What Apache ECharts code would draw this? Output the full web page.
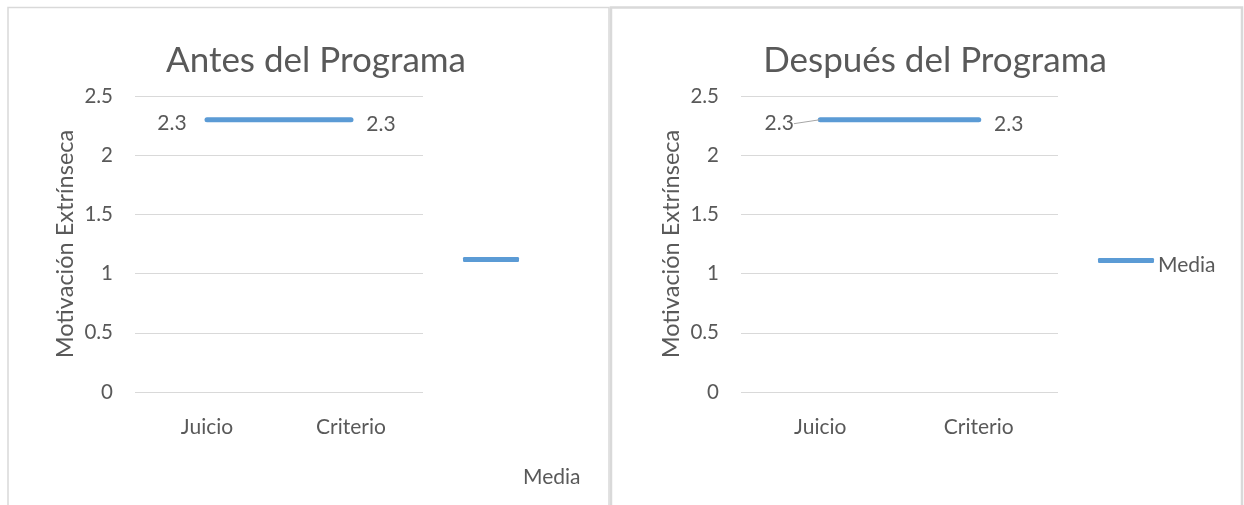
<!DOCTYPE html>
<html>
<head>
<meta charset="utf-8">
<script src="https://cdn.jsdelivr.net/npm/echarts@6/dist/echarts.min.js"></script>
<style>
  html, body { margin: 0; padding: 0; background: #fff; }
  #chart { width: 1244px; height: 505px; }
</style>
</head>
<body>
<div id="chart"></div>
<script>
// Categories and mean values for each panel
const categories = ['Juicio', 'Criterio'];
const antesValues = [2.3, 2.3];
const despuesValues = [2.3, 2.3];
const panelTitles = ['Antes del Programa', 'Después del Programa'];
const axisTitle = 'Motivación Extrínseca';
const seriesName = 'Media';

const FONT = 'Lato, "Open Sans", sans-serif';
const TXT = '#595959';
const GRIDC = '#d9d9d9';
const LINEC = '#5b9bd5';

function yAxis(gridIndex) {
  return {
    gridIndex, type: 'value', min: 0, max: 2.5, interval: 0.5,
    axisLine: { show: false }, axisTick: { show: false },
    splitLine: { lineStyle: { color: GRIDC, width: 1 } },
    axisLabel: { color: TXT, fontFamily: FONT, fontSize: 20.5, margin: 22 },
    name: axisTitle, nameLocation: 'middle', nameRotate: 90, nameGap: 58,
    nameTextStyle: { color: TXT, fontFamily: FONT, fontSize: 23.5 }
  };
}
function xAxis(gridIndex) {
  return {
    gridIndex, type: 'category', data: categories, boundaryGap: true,
    axisLine: { show: false }, axisTick: { show: false },
    axisLabel: { color: TXT, fontFamily: FONT, fontSize: 21, margin: 25 }
  };
}
const lineStyle = { color: LINEC, width: 5, cap: 'round' };
const labelStyle = { color: TXT, fontFamily: FONT, fontSize: 21 };

// The first point of the second panel gets a short leader line to its label
function lineSeries(idx, values, withGuide) {
  const data = values.map((v, i) => (withGuide && i === 0)
    ? { value: v, labelLine: { show: true } }
    : { value: v, labelLine: { show: false } });
  return {
    name: seriesName, type: 'line', xAxisIndex: idx, yAxisIndex: idx,
    data, symbol: 'circle', symbolSize: 1, showSymbol: true,
    itemStyle: { color: LINEC }, lineStyle,
    label: { show: true, ...labelStyle },
    labelLine: { show: false, length2: 0, lineStyle: { color: '#a6a6a6', width: 1 } },
    labelLayout: p => p.dataIndex === 0
      ? { x: p.rect.x + p.rect.width / 2 - (withGuide ? 41 : 35), y: p.rect.y + p.rect.height / 2 + 4,
          align: 'center', verticalAlign: 'middle' }
      : { x: p.rect.x + p.rect.width / 2 + 30, y: p.rect.y + p.rect.height / 2 + 5,
          align: 'center', verticalAlign: 'middle' }
  };
}

const option = {
  animation: false,
  title: [
    { text: panelTitles[0], left: 311, top: 38, textAlign: 'center',
      textStyle: { color: TXT, fontFamily: FONT, fontSize: 35, fontWeight: 'normal' } },
    { text: panelTitles[1], left: 930, top: 38, textAlign: 'center',
      textStyle: { color: TXT, fontFamily: FONT, fontSize: 35, fontWeight: 'normal' } }
  ],
  grid: [
    { left: 135, top: 96, width: 288, height: 296 },
    { left: 741, top: 96, width: 317, height: 296 }
  ],
  xAxis: [xAxis(0), xAxis(1)],
  yAxis: [yAxis(0), yAxis(1)],
  legend: [
    { data: [seriesName], left: 463, top: 257, padding: 0, icon: 'roundRect', itemWidth: 56, itemHeight: 5,
      formatter: () => '', itemGap: 0 },
    { data: [seriesName], left: 1098, top: 255, padding: 0, icon: 'roundRect', itemWidth: 56, itemHeight: 5,
      itemGap: 4, formatter: name => '{t|' + name + '}',
      textStyle: { color: TXT, fontFamily: FONT, fontSize: 21, padding: [0, 0, 0, -1],
        rich: { t: { color: TXT, fontFamily: FONT, fontSize: 21, padding: [10, 0, 0, 0], verticalAlign: 'bottom' } } } }
  ],
  series: [
    lineSeries(0, antesValues, false),
    lineSeries(1, despuesValues, true)
  ],
  graphic: [
    // panel frames
    { type: 'polyline', shape: { points: [[8, 520], [8, 7.5], [609, 7.5], [609, 520]] },
      style: { stroke: GRIDC, lineWidth: 1.5, fill: null }, silent: true },
    { type: 'polyline', shape: { points: [[611, 520], [611, 7.5], [1242, 7.5], [1242, 520]] },
      style: { stroke: GRIDC, lineWidth: 2.5, fill: null }, silent: true },
    { type: 'text', left: 523, top: 467,
      style: { text: seriesName, fill: TXT, font: '21px ' + FONT } }
  ]
};

const chart = echarts.init(document.getElementById('chart'), null, { renderer: 'canvas' });
chart.setOption(option);
</script>
</body>
</html>
